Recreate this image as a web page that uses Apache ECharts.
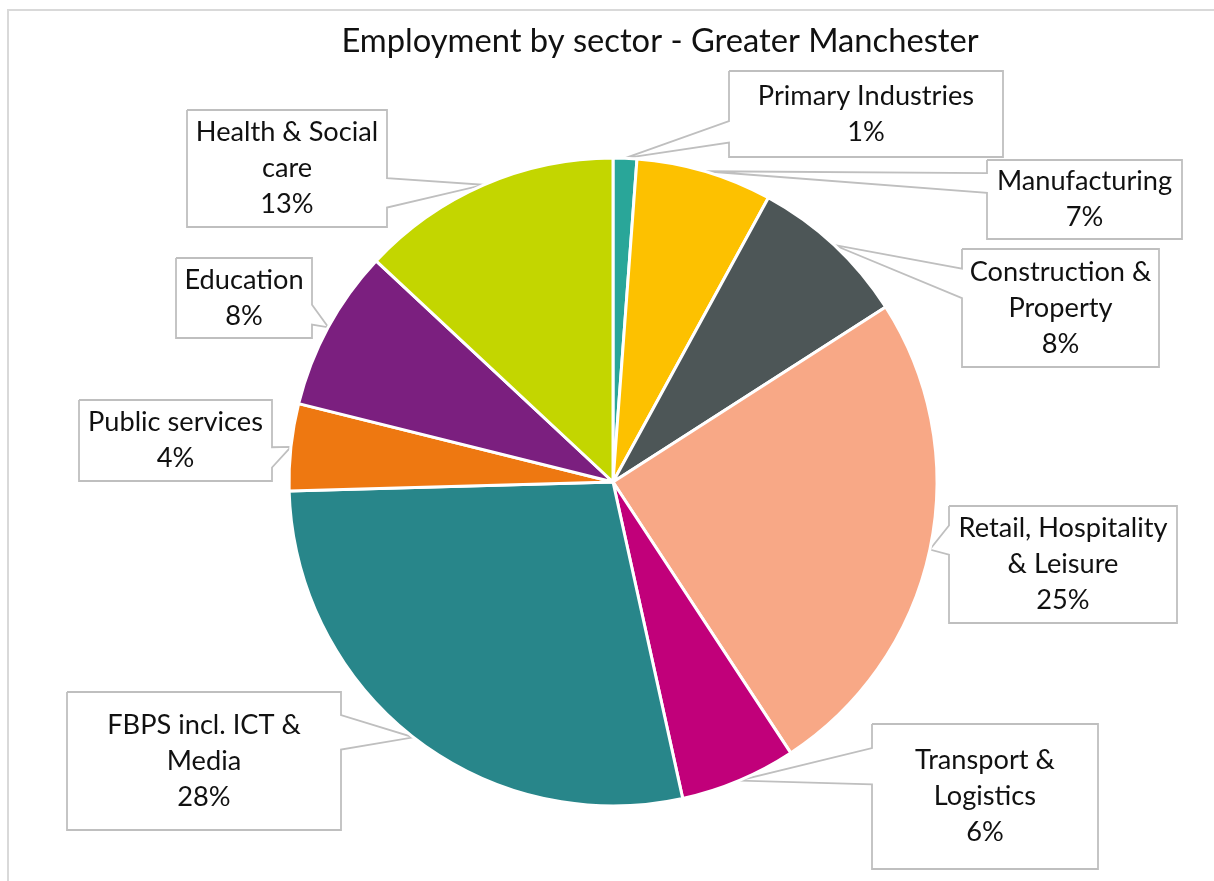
<!DOCTYPE html>
<html>
<head>
<meta charset="utf-8">
<script src="https://cdn.jsdelivr.net/npm/echarts@6/dist/echarts.min.js"></script>
<style>
  html, body { margin: 0; padding: 0; background: #ffffff; }
  #chart { width: 1214px; height: 881px; }
</style>
</head>
<body>
<div id="chart"></div>
<script>
// ---- data ----
const categories = [
  'Primary Industries', 'Manufacturing', 'Construction & Property',
  'Retail, Hospitality & Leisure', 'Transport & Logistics',
  'FBPS incl. ICT & Media', 'Public services', 'Education', 'Health & Social care'
];
const shares = [1.18, 6.78, 7.96, 24.84, 5.79, 28.01, 4.33, 8.06, 13.05];
const labelNames = [
  'Primary Industries', 'Manufacturing', 'Construction &\nProperty',
  'Retail, Hospitality\n& Leisure', 'Transport &\nLogistics',
  'FBPS incl. ICT &\nMedia', 'Public services', 'Education', 'Health & Social\ncare'
];
const titleText = 'Employment by sector - Greater Manchester';

// ---- styling / layout ----
const colors = ['#29A699', '#FDC100', '#4D5657', '#F8A886', '#C1007A',
                '#28868A', '#EE7811', '#7B1F7F', '#C3D600'];
// callout boxes [left, top, right, bottom]
const boxes = [
  [729, 71, 1003, 157],
  [987, 160, 1182, 239],
  [962, 249, 1159, 367],
  [949, 506, 1177, 623],
  [872, 724, 1098, 869],
  [67, 692, 341, 830],
  [79, 400, 272, 481],
  [176, 258, 312, 338],
  [187, 110, 387, 227]
];

// Excel-like wedge rectangle callout outline
function calloutPath(b, tip) {
  const l = b[0], t = b[1], r = b[2], bt = b[3];
  const w = r - l, h = bt - t, hc = l + w / 2, vc = t + h / 2;
  const dx = tip[0] - hc, dy = tip[1] - vc;
  const dz = Math.abs(dy) - Math.abs(dx * h / w);
  const x1 = l + w * (dx > 0 ? 7 : 2) / 12, x2 = l + w * (dx > 0 ? 10 : 5) / 12;
  const y1 = t + h * (dy > 0 ? 7 : 2) / 12, y2 = t + h * (dy > 0 ? 10 : 5) / 12;
  const P = [tip[0], tip[1]];
  const pts = [[l, t]];
  if (dz > 0 && dy < 0) pts.push([x1, t], P, [x2, t]);
  pts.push([r, t]);
  if (dz <= 0 && dx > 0) pts.push([r, y1], P, [r, y2]);
  pts.push([r, bt]);
  if (dz > 0 && dy > 0) pts.push([x2, bt], P, [x1, bt]);
  pts.push([l, bt]);
  if (dz <= 0 && dx < 0) pts.push([l, y2], P, [l, y1]);
  pts.push([l, t]);
  return pts;
}

const chart = echarts.init(document.getElementById('chart'), null, { renderer: 'canvas' });

const option = {
  animation: false,
  backgroundColor: '#ffffff',
  title: {
    text: titleText,
    left: 655,
    top: 16,
    textAlign: 'center',
    textStyle: {
      fontFamily: 'Lato', fontSize: 32.7, fontWeight: 'normal',
      color: '#111111', lineHeight: 40
    }
  },
  graphic: [{
    type: 'polyline',
    silent: true,
    shape: { points: [[8, 881], [8, 10], [1214, 10]] },
    style: { stroke: '#d9d9d9', lineWidth: 2, fill: null }
  }],
  series: [{
    type: 'pie',
    center: [613, 482],
    radius: 324,
    startAngle: 90,
    clockwise: true,
    avoidLabelOverlap: false,
    emphasis: { disabled: true },
    data: categories.map((c, i) => ({
      name: c,
      value: shares[i],
      itemStyle: { color: colors[i] },
      label: { width: boxes[i][2] - boxes[i][0] - 4 }
    })),
    itemStyle: { borderColor: '#ffffff', borderWidth: 3 },
    label: {
      show: true,
      position: 'outside',
      overflow: 'none',
      fontFamily: 'Lato',
      fontSize: 27.2,
      lineHeight: 36,
      color: '#111111',
      align: 'center',
      formatter: p => labelNames[p.dataIndex] + '\n' + Math.round(p.percent) + '%'
    },
    labelLine: {
      show: true,
      length: 10,
      length2: 10,
      smooth: false,
      lineStyle: { color: '#bfbfbf', width: 1.8 }
    },
    labelLayout: function (params) {
      const b = boxes[params.dataIndex];
      const tip = params.labelLinePoints ? params.labelLinePoints[0] : [b[0], b[1]];
      return {
        x: (b[0] + b[2]) / 2,
        y: (b[1] + b[3]) / 2,
        align: 'center',
        verticalAlign: 'middle',
        labelLinePoints: calloutPath(b, tip)
      };
    }
  }]
};

chart.setOption(option);
</script>
</body>
</html>
